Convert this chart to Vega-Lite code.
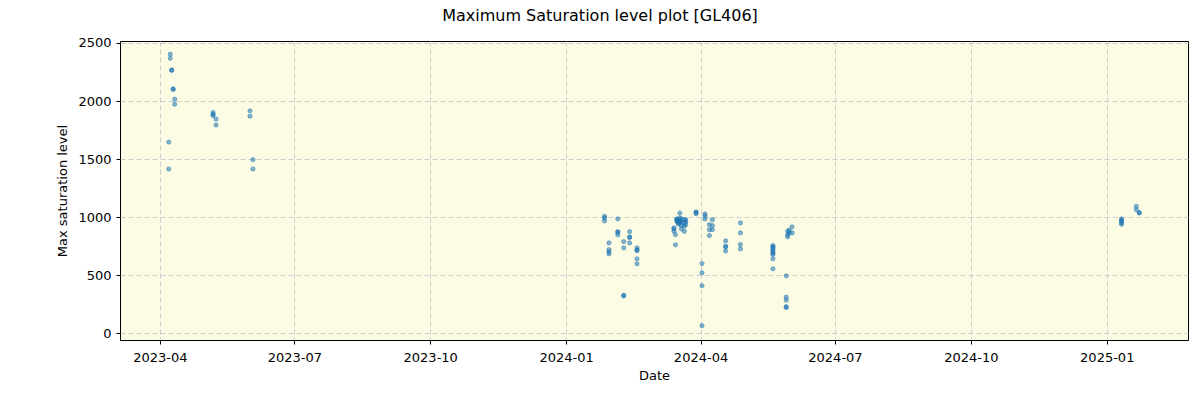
{
  "$schema": "https://vega.github.io/schema/vega-lite/v6.json",
  "width": 1068,
  "height": 299,
  "autosize": {"type": "none"},
  "padding": {"left": 120, "top": 41, "right": 12, "bottom": 60},
  "background": "white",
  "title": {"text": "Maximum Saturation level plot [GL406]", "fontSize": 16, "font": "DejaVu Sans", "fontWeight": "normal", "color": "black", "anchor": "middle", "dx": -54, "offset": 13},
  "config": {
    "view": {"stroke": "black", "strokeWidth": 1, "fill": "#fcfbe3"},
    "axis": {"domain": false, "tickColor": "black", "tickSize": 4, "labelFont": "DejaVu Sans", "labelFontSize": 13, "labelColor": "black", "titleFont": "DejaVu Sans", "titleFontSize": 13, "titleFontWeight": "normal", "titleColor": "black", "grid": true, "gridDash": [5, 3], "gridColor": "#cccccc", "gridWidth": 1}
  },
  "data": {"values": [
    {"date": "2023-04-08", "v": 2403}, {"date": "2023-04-08", "v": 2368},
    {"date": "2023-04-09", "v": 2268}, {"date": "2023-04-09", "v": 2264},
    {"date": "2023-04-10", "v": 2105}, {"date": "2023-04-10", "v": 2100},
    {"date": "2023-04-11", "v": 2016}, {"date": "2023-04-11", "v": 1973},
    {"date": "2023-04-07", "v": 1647}, {"date": "2023-04-07", "v": 1415},
    {"date": "2023-05-07", "v": 1901}, {"date": "2023-05-07", "v": 1885}, {"date": "2023-05-07", "v": 1875},
    {"date": "2023-05-09", "v": 1845}, {"date": "2023-05-09", "v": 1793},
    {"date": "2023-06-01", "v": 1916}, {"date": "2023-06-01", "v": 1870},
    {"date": "2023-06-03", "v": 1495}, {"date": "2023-06-03", "v": 1415},
    {"date": "2024-01-27", "v": 1008}, {"date": "2024-01-27", "v": 994}, {"date": "2024-01-27", "v": 968},
    {"date": "2024-01-30", "v": 779}, {"date": "2024-01-30", "v": 722}, {"date": "2024-01-30", "v": 702}, {"date": "2024-01-30", "v": 685},
    {"date": "2024-02-05", "v": 985}, {"date": "2024-02-05", "v": 876}, {"date": "2024-02-05", "v": 870}, {"date": "2024-02-05", "v": 848},
    {"date": "2024-02-09", "v": 790}, {"date": "2024-02-09", "v": 736}, {"date": "2024-02-09", "v": 328}, {"date": "2024-02-09", "v": 322},
    {"date": "2024-02-13", "v": 876}, {"date": "2024-02-13", "v": 830}, {"date": "2024-02-13", "v": 825}, {"date": "2024-02-13", "v": 779},
    {"date": "2024-02-18", "v": 736}, {"date": "2024-02-18", "v": 718}, {"date": "2024-02-18", "v": 712}, {"date": "2024-02-18", "v": 642}, {"date": "2024-02-18", "v": 599},
    {"date": "2024-03-14", "v": 908}, {"date": "2024-03-14", "v": 900}, {"date": "2024-03-14", "v": 879},
    {"date": "2024-03-15", "v": 850}, {"date": "2024-03-15", "v": 762},
    {"date": "2024-03-16", "v": 985}, {"date": "2024-03-16", "v": 979}, {"date": "2024-03-16", "v": 975}, {"date": "2024-03-16", "v": 960},
    {"date": "2024-03-17", "v": 970}, {"date": "2024-03-17", "v": 955}, {"date": "2024-03-17", "v": 940},
    {"date": "2024-03-18", "v": 1036}, {"date": "2024-03-18", "v": 994}, {"date": "2024-03-18", "v": 970}, {"date": "2024-03-18", "v": 965}, {"date": "2024-03-18", "v": 950},
    {"date": "2024-03-19", "v": 985}, {"date": "2024-03-19", "v": 960}, {"date": "2024-03-19", "v": 930}, {"date": "2024-03-19", "v": 900},
    {"date": "2024-03-21", "v": 979}, {"date": "2024-03-21", "v": 950}, {"date": "2024-03-21", "v": 922}, {"date": "2024-03-21", "v": 879},
    {"date": "2024-03-22", "v": 979}, {"date": "2024-03-22", "v": 960}, {"date": "2024-03-22", "v": 936},
    {"date": "2024-03-29", "v": 1045}, {"date": "2024-03-29", "v": 1040}, {"date": "2024-03-29", "v": 1030},
    {"date": "2024-04-02", "v": 601}, {"date": "2024-04-02", "v": 521}, {"date": "2024-04-02", "v": 410}, {"date": "2024-04-02", "v": 66},
    {"date": "2024-04-04", "v": 1028}, {"date": "2024-04-04", "v": 1010}, {"date": "2024-04-04", "v": 985},
    {"date": "2024-04-07", "v": 936}, {"date": "2024-04-07", "v": 893}, {"date": "2024-04-07", "v": 842},
    {"date": "2024-04-09", "v": 979}, {"date": "2024-04-09", "v": 928}, {"date": "2024-04-09", "v": 893},
    {"date": "2024-04-18", "v": 796}, {"date": "2024-04-18", "v": 750}, {"date": "2024-04-18", "v": 745}, {"date": "2024-04-18", "v": 710},
    {"date": "2024-04-28", "v": 951}, {"date": "2024-04-28", "v": 865}, {"date": "2024-04-28", "v": 765}, {"date": "2024-04-28", "v": 727},
    {"date": "2024-05-20", "v": 756}, {"date": "2024-05-20", "v": 745}, {"date": "2024-05-20", "v": 735}, {"date": "2024-05-20", "v": 720}, {"date": "2024-05-20", "v": 705}, {"date": "2024-05-20", "v": 690}, {"date": "2024-05-20", "v": 680}, {"date": "2024-05-20", "v": 642}, {"date": "2024-05-20", "v": 556},
    {"date": "2024-05-29", "v": 496}, {"date": "2024-05-29", "v": 312}, {"date": "2024-05-29", "v": 286}, {"date": "2024-05-29", "v": 230}, {"date": "2024-05-29", "v": 222},
    {"date": "2024-05-30", "v": 879}, {"date": "2024-05-30", "v": 850}, {"date": "2024-05-30", "v": 831},
    {"date": "2024-05-31", "v": 888}, {"date": "2024-05-31", "v": 865},
    {"date": "2024-06-02", "v": 917}, {"date": "2024-06-02", "v": 865},
    {"date": "2025-01-11", "v": 985}, {"date": "2025-01-11", "v": 975}, {"date": "2025-01-11", "v": 965}, {"date": "2025-01-11", "v": 950}, {"date": "2025-01-11", "v": 940},
    {"date": "2025-01-21", "v": 1094}, {"date": "2025-01-21", "v": 1065},
    {"date": "2025-01-23", "v": 1040}, {"date": "2025-01-23", "v": 1036}
  ]},
  "mark": {"type": "circle", "size": 18, "fill": "#1f77b4", "fillOpacity": 0.55, "stroke": "#1f77b4", "strokeWidth": 0.8, "strokeOpacity": 0.6},
  "encoding": {
    "x": {"field": "date", "type": "temporal", "title": "Date",
      "scale": {"type": "utc", "domain": [{"year": 2023, "month": 3, "date": 5, "utc": true}, {"year": 2025, "month": 2, "date": 25, "utc": true}]},
      "axis": {"labelExpr": "utcFormat(datum.value, '%Y-%m')", "labelPadding": 7, "titlePadding": 5,
        "values": [
          {"year": 2023, "month": 4, "date": 1, "utc": true},
          {"year": 2023, "month": 7, "date": 1, "utc": true},
          {"year": 2023, "month": 10, "date": 1, "utc": true},
          {"year": 2024, "month": 1, "date": 1, "utc": true},
          {"year": 2024, "month": 4, "date": 1, "utc": true},
          {"year": 2024, "month": 7, "date": 1, "utc": true},
          {"year": 2024, "month": 10, "date": 1, "utc": true},
          {"year": 2025, "month": 1, "date": 1, "utc": true}
        ]}},
    "y": {"field": "v", "type": "quantitative", "title": "Max saturation level",
      "scale": {"domain": [-57, 2517], "nice": false, "zero": false},
      "axis": {"format": "d", "values": [0, 500, 1000, 1500, 2000, 2500], "labelPadding": 5, "titlePadding": 8}}
  }
}
